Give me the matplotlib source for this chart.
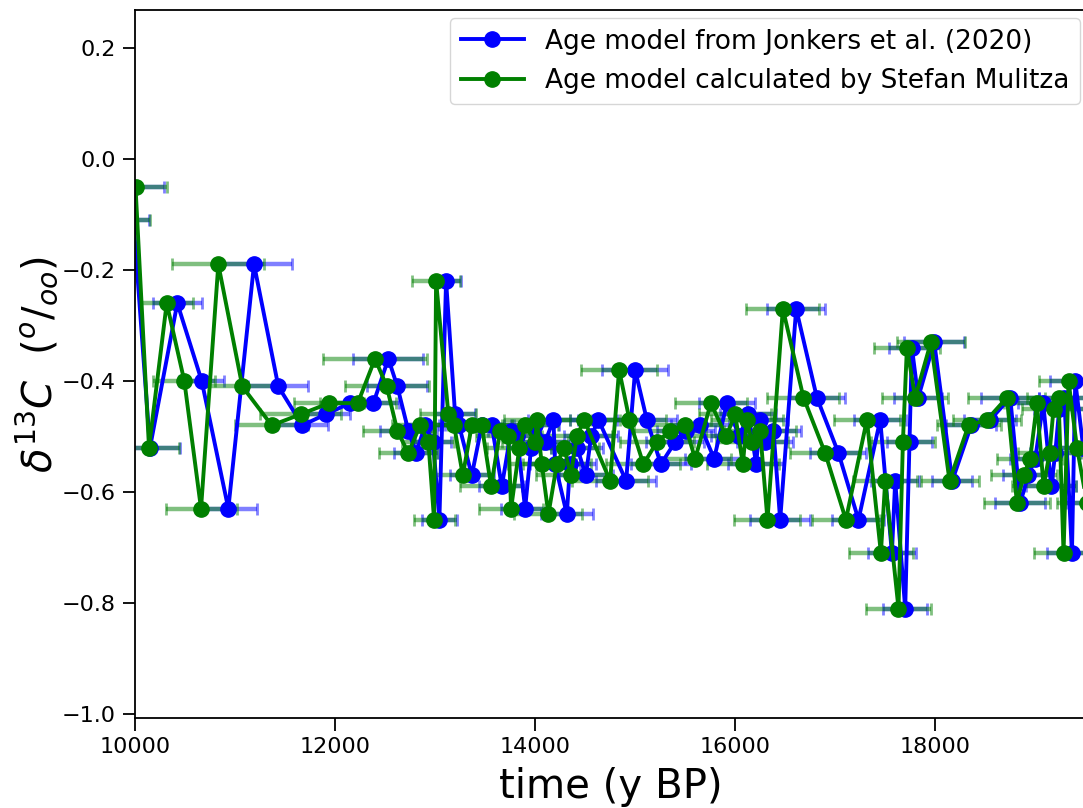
import matplotlib
matplotlib.use("Agg")
import matplotlib.pyplot as plt

# d13C values (permil), same samples for both age models
d13c = [-0.11, -0.05, -0.52, -0.26, -0.40, -0.63, -0.19, -0.41, -0.48, -0.46,
        -0.44, -0.44, -0.36, -0.41, -0.49, -0.53, -0.48, -0.51, -0.65, -0.22,
        -0.46, -0.48, -0.57, -0.48, -0.48, -0.59, -0.49, -0.50, -0.63, -0.52,
        -0.48, -0.51, -0.47, -0.55, -0.64, -0.55, -0.52, -0.57, -0.50, -0.47,
        -0.58, -0.38, -0.47, -0.55, -0.51, -0.49, -0.48, -0.54, -0.44, -0.50,
        -0.46, -0.55, -0.47, -0.51, -0.49, -0.65, -0.27, -0.43, -0.53, -0.65,
        -0.47, -0.71, -0.58, -0.81, -0.51, -0.34, -0.43, -0.33, -0.58, -0.48,
        -0.47, -0.43, -0.62, -0.57, -0.54, -0.44, -0.59, -0.53, -0.45, -0.43,
        -0.71, -0.40, -0.52, -0.62]

# ages, Jonkers et al. (2020)
age_jonkers = [9840, 9960, 10150, 10423, 10667, 10933, 11190, 11433, 11673, 11907,
               12150, 12383, 12533, 12623, 12733, 12810, 12900, 12980, 13043, 13110,
               13200, 13240, 13367, 13467, 13567, 13667, 13760, 13820, 13900, 13960,
               14000, 14100, 14183, 14200, 14317, 14350, 14420, 14507, 14560, 14633,
               14910, 15000, 15117, 15257, 15400, 15510, 15650, 15790, 15917, 16040,
               16133, 16210, 16250, 16300, 16383, 16450, 16610, 16817, 17033, 17233,
               17450, 17567, 17600, 17700, 17743, 17767, 17830, 17990, 18170, 18360,
               18550, 18750, 18850, 18930, 19000, 19080, 19160, 19200, 19240, 19290,
               19367, 19400, 19480, 19560]
err_jonkers = [300, 330, 300, 245, 225, 290, 380, 300, 255, 245,
               250, 260, 350, 300, 285, 220, 200, 180, 175, 145,
               200, 200, 220, 220, 220, 230, 230, 230, 240, 240,
               240, 250, 250, 250, 260, 260, 260, 270, 270, 280,
               300, 330, 300, 300, 290, 290, 290, 290, 280, 280,
               280, 280, 280, 280, 280, 300, 290, 280, 280, 260,
               260, 240, 240, 220, 220, 230, 240, 300, 200, 250,
               260, 290, 250, 250, 250, 250, 250, 250, 250, 250,
               250, 250, 250, 250]

# ages, Stefan Mulitza
age_mulitza = [9850, 10005, 10140, 10317, 10493, 10660, 10833, 11073, 11367, 11657,
               11940, 12227, 12400, 12517, 12623, 12733, 12850, 12933, 12990, 13010,
               13133, 13190, 13277, 13367, 13467, 13560, 13650, 13733, 13760, 13843,
               13900, 14000, 14017, 14067, 14133, 14217, 14290, 14357, 14417, 14490,
               14750, 14840, 14943, 15083, 15217, 15350, 15500, 15600, 15757, 15910,
               16000, 16077, 16117, 16167, 16250, 16323, 16477, 16683, 16900, 17107,
               17317, 17457, 17500, 17633, 17677, 17717, 17800, 17957, 18143, 18333,
               18517, 18717, 18817, 18883, 18950, 19017, 19083, 19143, 19183, 19233,
               19283, 19333, 19417, 19517]
err_mulitza = [300, 310, 300, 265, 310, 355, 460, 330, 365, 405,
               350, 380, 520, 420, 345, 290, 280, 260, 205, 240,
               280, 280, 300, 300, 300, 310, 310, 320, 320, 320,
               330, 330, 330, 340, 340, 340, 350, 350, 350, 360,
               380, 380, 370, 370, 370, 360, 360, 360, 360, 360,
               360, 360, 360, 360, 360, 330, 365, 360, 350, 340,
               330, 320, 320, 320, 320, 330, 330, 340, 290, 320,
               340, 385, 330, 330, 330, 330, 320, 320, 320, 320,
               300, 300, 300, 300]

fig = plt.figure(figsize=(10.83, 8.08), dpi=100)
ax = fig.add_axes([135/1083, 90/808, 1.003 - 135/1083, 1 - 10/808 - 90/808])

ax.errorbar(age_jonkers, d13c, xerr=err_jonkers, fmt='none', ecolor='blue',
            elinewidth=3.2, capsize=4, capthick=2, alpha=0.5)
ax.errorbar(age_mulitza, d13c, xerr=err_mulitza, fmt='none', ecolor='green',
            elinewidth=3.2, capsize=4, capthick=2, alpha=0.5)
ax.plot(age_jonkers, d13c, 'o-', color='blue', lw=2.8, ms=11,
        label='Age model from Jonkers et al. (2020)')
ax.plot(age_mulitza, d13c, 'o-', color='green', lw=2.8, ms=11,
        label='Age model calculated by Stefan Mulitza')

ax.set_xlim(10000, 19510)
ax.set_ylim(-1.007, 0.268)
ax.set_xticks([10000, 12000, 14000, 16000, 18000])
ax.set_yticks([0.2, 0.0, -0.2, -0.4, -0.6, -0.8, -1.0])
ax.tick_params(labelsize=16, length=9, width=1.3, pad=5)
for s in ax.spines.values():
    s.set_linewidth(1.3)
ax.set_xlabel('time (y BP)', fontsize=29, labelpad=7)
ax.set_ylabel(r'$\delta^{13}C\ \ (^o/_{oo})$', fontsize=29, labelpad=1)
ax.legend(loc='upper right', fontsize=19, handlelength=2.4,
          bbox_to_anchor=(1080/1083, 1 - 18/808),
          bbox_transform=fig.transFigure, borderaxespad=0)

fig.savefig('out.png', dpi=100)
